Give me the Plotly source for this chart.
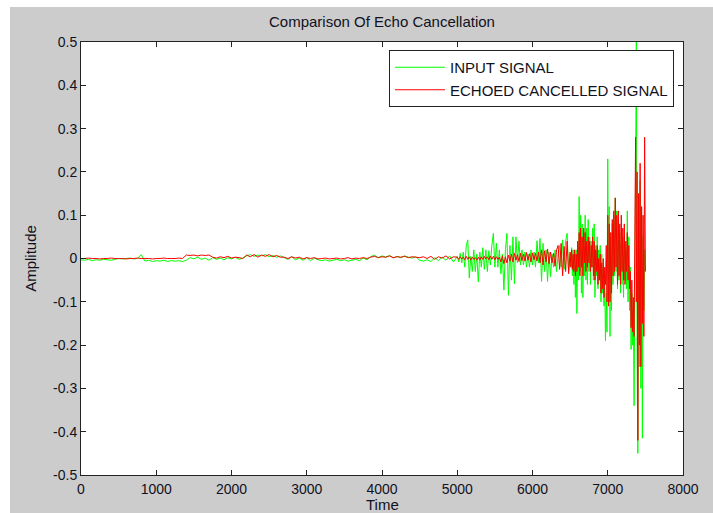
import plotly.graph_objects as go

# ---------------- data ----------------
# segment A: t = 0 .. 4950, every 50 samples
input_a = [-0.003, -0.004, -0.002, -0.005, -0.003, -0.004, -0.002, -0.003, -0.004, -0.002,
           0.0, -0.001, 0.0, 0.001, -0.001, 0.0,
           0.009, -0.006, -0.004, -0.007, -0.005, -0.006, -0.004, -0.007, -0.005, -0.006, -0.005, -0.007, -0.004,
           0.002, -0.001, 0.003, -0.002, 0.001, -0.004, 0.002, -0.002, 0.001, -0.003, 0.002, -0.001, 0.003, -0.002, 0.001,
           0.006, 0.009, 0.005, 0.008, 0.006, 0.009, 0.004, 0.007, 0.003, 0.006,
           0.002, -0.002, 0.004, -0.003, 0.001, -0.004, 0.002, -0.005, 0.001, -0.003,
           -0.005, -0.003, -0.006, -0.004, -0.002, -0.005, -0.003, -0.006, -0.004, -0.002, -0.005, 0.001, -0.003,
           0.004, 0.008, 0.002, 0.006, 0.003, 0.007, 0.001, 0.005, 0.002, 0.006, 0.003, 0.001, 0.004,
           -0.004, -0.006, -0.003, -0.007, 0.002, -0.005, 0.003, -0.004, 0.006, -0.008]
cancel_a = [0.0, 0.0, 0.001, 0.0, 0.0, -0.001, 0.0, 0.0, 0.001, 0.0, 0.0, 0.0, -0.001, 0.0,
            0.0, 0.001, 0.0, 0.0, 0.0, -0.001, 0.0, 0.0, 0.001, 0.0, 0.0, 0.0, 0.001, 0.0,
            0.008, 0.007, 0.008, 0.006, 0.008, 0.007, 0.008,
            0.003, 0.001, 0.004, 0.002, 0.005, 0.001, 0.003, 0.002, 0.0,
            0.008, 0.004, 0.009, 0.003, 0.008, 0.005, 0.009, 0.004, 0.007, 0.003,
            0.003, 0.0, 0.004, 0.001, 0.003, -0.001, 0.002, 0.0, 0.002, -0.001,
            0.0, 0.001, -0.001, 0.0, 0.001, -0.001, 0.0, 0.002, -0.001, 0.001, 0.0, 0.002, 0.0,
            0.003, 0.005, 0.002, 0.004, 0.003, 0.006, 0.002, 0.004, 0.003, 0.005, 0.002, 0.004, 0.003,
            0.002, 0.004, 0.0, 0.005, -0.002, 0.004, 0.001, 0.006, -0.001, 0.004]

# segment B: t = 5000 .. 6480, every 20 samples
input_b = [0.005, -0.008, 0.012, -0.01, 0.015, -0.02, 0.03, 0.043, -0.045, 0.005,
           -0.03, 0.02, -0.03, 0.01, -0.054, 0.015, -0.02, 0.025, -0.025, 0.02,
           -0.03, 0.018, -0.015, 0.03, 0.058, -0.02, 0.035, -0.02, 0.02, -0.035,
           0.01, -0.073, 0.02, 0.058, -0.085, 0.03, -0.05, 0.05, -0.058, 0.05,
           -0.01, 0.04, -0.015, 0.02, -0.015, 0.015, -0.02, 0.01, -0.02, 0.02,
           -0.015, 0.015, -0.02, 0.041, -0.01, 0.046, -0.053, 0.035, -0.03, 0.02,
           -0.053, 0.015, -0.042, 0.01, -0.02, 0.02, -0.03, 0.01, 0.03, -0.02,
           0.043, -0.025, 0.04, 0.058, -0.03]
cancel_b = [0.003, -0.002, 0.004, -0.001, 0.003, -0.003, 0.005, -0.002, 0.004, -0.004,
            0.003, -0.002, 0.002, -0.004, 0.003, -0.003, 0.004, -0.002, 0.005, -0.001,
            0.004, -0.003, 0.006, -0.002, 0.005, -0.003, 0.004, -0.002, 0.003,
            -0.008, 0.006, -0.012, 0.004, -0.01, 0.008, -0.006, 0.01, -0.008, 0.012,
            -0.004, 0.009, -0.007, 0.012, -0.005, 0.01, -0.006, 0.014, -0.004, 0.011,
            -0.008, 0.013, -0.003, 0.012, -0.006, 0.015,
            -0.01, 0.02, -0.015, 0.018, -0.008, 0.022, -0.012, 0.015, -0.01, 0.012,
            -0.018, 0.02, 0.03, -0.025, 0.035, -0.04, 0.028, -0.03, 0.04, -0.035]

# segment C: t = 6500 .. 7500, every 10 samples
input_c = [0.01, -0.02, 0.025, -0.04, 0.02, -0.06, 0.015, -0.09, 0.02, -0.127,
           0.03, -0.05, 0.143, -0.03, 0.1, -0.08, 0.08, -0.09, 0.06, -0.04,
           0.1, -0.05, 0.07, -0.06, 0.09, -0.03, 0.05, -0.06, 0.04, -0.02,
           0.07, -0.05, 0.08, -0.09, 0.03, -0.04, 0.05, -0.07, 0.02, -0.05,
           0.03, -0.1, 0.01, -0.08, -0.02, -0.11, -0.05, -0.19, -0.08, -0.17,
           0.23, -0.05, 0.12, -0.18, 0.05, -0.12, 0.08, -0.06, 0.1, -0.04,
           0.14, -0.03, 0.11, -0.07, 0.09, -0.05, 0.06, -0.08, 0.04, -0.06,
           0.05, -0.09, 0.03, -0.05, 0.02, -0.07, 0.11, -0.1, 0.05, -0.12,
           -0.02, -0.21, -0.08, -0.2, -0.12, -0.34, -0.05, 0.2, 0.5, -0.2,
           -0.45, 0.15, -0.25, 0.18, -0.3, 0.1, -0.415, 0.05, -0.12, 0.02,
           -0.03]
cancel_c = [0.015, -0.02, 0.02, -0.025, 0.01, -0.03, 0.02, -0.04, 0.01, -0.03,
            0.04, -0.02, 0.06, -0.04, 0.07, -0.02, 0.05, -0.04, 0.07, -0.01,
            0.06, -0.03, 0.04, -0.02, 0.05, -0.01, 0.04, -0.03, 0.03, -0.02,
            0.05, -0.04, 0.04, -0.05, 0.02, -0.03, 0.03, -0.06, 0.0, -0.05,
            0.01, -0.08, -0.01, -0.07, 0.0, -0.09, -0.02, -0.06, 0.03, -0.1,
            0.1, -0.11, 0.08, -0.1, 0.06, -0.08, 0.09, -0.04, 0.11, -0.03,
            0.14, -0.02, 0.1, -0.06, 0.11, -0.04, 0.08, -0.06, 0.1, -0.03,
            0.07, -0.05, 0.08, -0.06, 0.04, -0.03, 0.06, -0.05, 0.03, -0.07,
            -0.03, -0.16, -0.05, -0.17, -0.09, -0.18, 0.05, 0.28, -0.1, 0.2,
            -0.42, 0.15, -0.2, 0.22, -0.25, 0.12, -0.15, 0.1, -0.18, 0.28,
            -0.03]

segments = [(0, 50, input_a, cancel_a),
            (5000, 20, input_b, cancel_b),
            (6500, 10, input_c, cancel_c)]

x_tick_vals = [0, 1000, 2000, 3000, 4000, 5000, 6000, 7000, 8000]
x_tick_text = ["0", "1000", "2000", "3000", "4000", "5000", "6000", "7000", "8000"]
y_tick_vals = [0.5, 0.4, 0.3, 0.2, 0.1, 0.0, -0.1, -0.2, -0.3, -0.4, -0.5]
y_tick_text = ["0.5", "0.4", "0.3", "0.2", "0.1", "0", "-0.1", "-0.2", "-0.3", "-0.4", "-0.5"]

# ---------------- assemble series ----------------
t_in, v_in, t_ec, v_ec = [], [], [], []
for start, step, vin, vec in segments:
    t_in += [start + step * i for i in range(len(vin))]
    v_in += vin
    t_ec += [start + step * i for i in range(len(vec))]
    v_ec += vec

FONT = "Liberation Sans, Arial, sans-serif"
GRAY = "#cccccc"
INK = "#111122"

fig = go.Figure()
fig.add_trace(go.Scatter(x=t_in, y=v_in, mode="lines", name="INPUT SIGNAL",
                         line=dict(color="#00ff00", width=1, simplify=False)))
fig.add_trace(go.Scatter(x=t_ec, y=v_ec, mode="lines", name="ECHOED CANCELLED SIGNAL",
                         line=dict(color="#ff0000", width=1, simplify=False)))

L, R, T, B = 81, 30, 42, 38
W, H = 713, 513
pw, ph = W - L - R, H - T - B

def px(x):
    return (x - L) / pw

def py(y):
    return (H - B - y) / ph

fig.update_layout(
    width=W, height=H,
    margin=dict(l=L, r=R, t=T, b=B, pad=0, autoexpand=False),
    paper_bgcolor="white",
    plot_bgcolor="white",
    font=dict(family=FONT, size=14, color=INK),
    title=dict(text="Comparison Of Echo Cancellation", x=px(382), xanchor="center",
               xref="paper", y=1 - 22 / H, yanchor="middle",
               font=dict(family=FONT, size=15, color=INK)),
    showlegend=True,
    legend=dict(x=px(389), y=py(50), xanchor="left", yanchor="top",
                bgcolor="white", bordercolor="#222222", borderwidth=1,
                font=dict(family=FONT, size=15, color=INK),
                tracegroupgap=0, itemwidth=50),
    shapes=[
        dict(type="rect", xref="paper", yref="paper", layer="below",
             x0=px(10), x1=px(W + 5), y0=py(7), y1=py(H + 5),
             fillcolor=GRAY, line=dict(width=0)),
        dict(type="rect", xref="paper", yref="paper", layer="below",
             x0=0, x1=1, y0=0, y1=1, fillcolor="white", line=dict(width=0)),
    ],
    annotations=[
        dict(text="Time", xref="paper", yref="paper", x=px(382), y=py(504),
             xanchor="center", yanchor="middle", showarrow=False,
             font=dict(family=FONT, size=15, color=INK)),
    ],
)
fig.update_xaxes(range=[0, 8000], tickvals=x_tick_vals, ticktext=x_tick_text,
                 ticks="inside", ticklen=5, tickcolor="#222222", tickwidth=1,
                 ticklabelstandoff=1,
                 showline=True, linecolor="#222222", linewidth=1, mirror="ticks",
                 showgrid=False, zeroline=False)
fig.update_yaxes(range=[-0.5, 0.5], tickvals=y_tick_vals, ticktext=y_tick_text,
                 ticks="inside", ticklen=5, tickcolor="#222222", tickwidth=1,
                 showline=True, linecolor="#222222", linewidth=1, mirror="ticks",
                 showgrid=False, zeroline=False,
                 title=dict(text="Amplitude", standoff=12, font=dict(family=FONT, size=15)))

fig.write_html("out.html")
